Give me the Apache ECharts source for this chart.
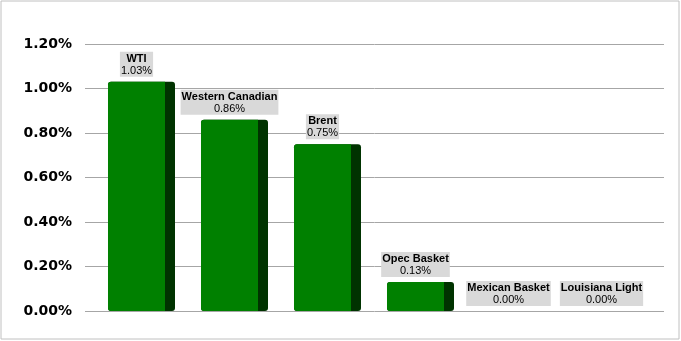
<!DOCTYPE html>
<html>
<head>
<meta charset="utf-8">
<script src="https://cdn.jsdelivr.net/npm/echarts@6/dist/echarts.min.js"></script>
<style>
html,body{margin:0;padding:0;background:#fff;}
#chart{width:681px;height:341px;}
</style>
</head>
<body>
<div id="chart"></div>
<script>
var categories = ['WTI', 'Western Canadian', 'Brent', 'Opec Basket', 'Mexican Basket', 'Louisiana Light'];
var values = [1.03, 0.86, 0.75, 0.13, 0.00, 0.00];
var yTicks = [0, 0.2, 0.4, 0.6, 0.8, 1.0, 1.2];

var chart = echarts.init(document.getElementById('chart'), null, {renderer: 'canvas'});

function renderBar(params, api) {
  var idx = api.value(0);
  var val = api.value(1);
  var top = api.coord([idx, val]);
  var base = api.coord([idx, 0]);
  var bw = api.size([1, 0])[0];
  var frontW = bw * 0.613;
  var sideW = bw * 0.1075;
  var left = top[0] - (frontW + sideW) / 2;
  var h = base[1] - top[1];
  var children = [];
  if (h > 0.5) {
    children.push({
      type: 'rect',
      shape: {x: left, y: top[1], width: frontW + sideW, height: h, r: 3},
      style: {fill: '#003300'}
    });
    children.push({
      type: 'rect',
      shape: {x: left, y: top[1], width: frontW, height: h, r: [3, 0, 0, 3]},
      style: {fill: '#008000'}
    });
  }
  children.push({
    type: 'text',
    x: left + frontW / 2,
    y: top[1] - 5,
    style: {
      text: '{n|' + categories[idx] + '}\n{v|' + val.toFixed(2) + '%}',
      align: 'center',
      verticalAlign: 'bottom',
      backgroundColor: '#d9d9d9',
      padding: [1, 1, 0, 1],
      rich: {
        n: {fontFamily: 'Liberation Sans, Arial', fontSize: 11, fontWeight: 'bold', color: '#000', lineHeight: 12, align: 'center'},
        v: {fontFamily: 'Liberation Sans, Arial', fontSize: 11, fontWeight: 'normal', color: '#000', lineHeight: 12, align: 'center'}
      }
    }
  });
  return {type: 'group', children: children};
}

var option = {
  animation: false,
  backgroundColor: '#ffffff',
  graphic: [{
    type: 'rect',
    shape: {x: 1, y: 1, width: 678, height: 338},
    style: {fill: 'none', stroke: '#c0c0c0', lineWidth: 1},
    silent: true
  }],
  grid: [
    {left: 85, right: 17, top: 44, bottom: 30},
    {left: 95, right: 28, top: 44, bottom: 30}
  ],
  xAxis: [
    {type: 'category', gridIndex: 0, data: categories, show: false},
    {type: 'category', gridIndex: 1, data: categories, show: false, boundaryGap: true}
  ],
  yAxis: [
    {
      type: 'value', gridIndex: 0, min: yTicks[0], max: yTicks[yTicks.length - 1], interval: 0.2,
      axisLine: {show: false}, axisTick: {show: false},
      splitLine: {show: true, lineStyle: {color: '#a6a6a6', width: 1}},
      axisLabel: {
        margin: 13,
        fontFamily: 'DejaVu Sans', fontWeight: 'bold', fontSize: 14, color: '#000',
        formatter: function (v) { return v.toFixed(2) + '%'; }
      }
    },
    {
      type: 'value', gridIndex: 1, min: yTicks[0], max: yTicks[yTicks.length - 1], interval: 0.2,
      show: false, splitLine: {show: false}
    }
  ],
  series: [{
    type: 'custom',
    xAxisIndex: 1,
    yAxisIndex: 1,
    renderItem: renderBar,
    data: values.map(function (v, i) { return [i, v]; })
  }]
};
chart.setOption(option);
</script>
</body>
</html>
